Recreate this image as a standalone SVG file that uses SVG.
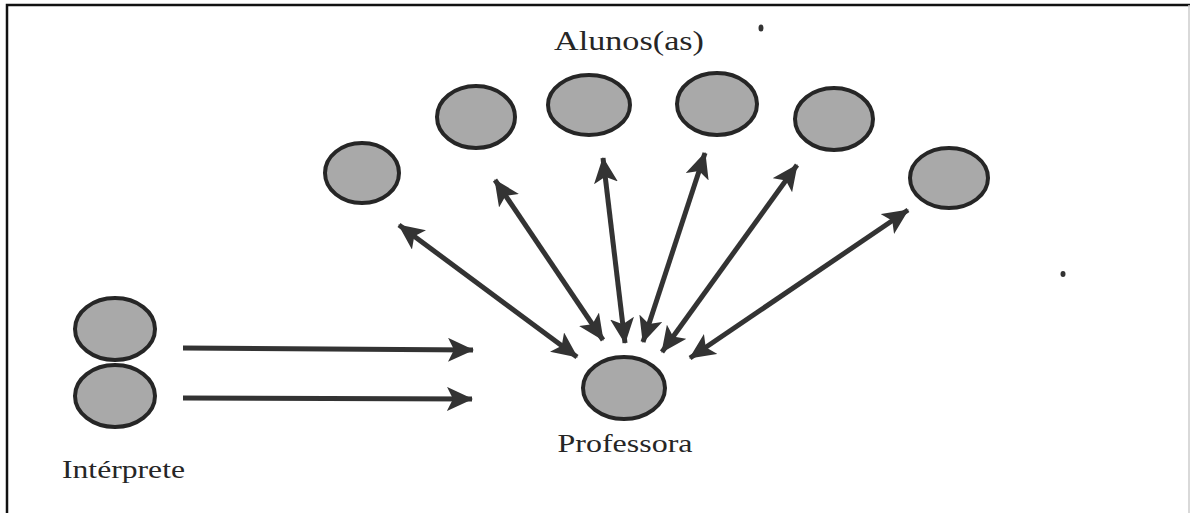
<svg xmlns="http://www.w3.org/2000/svg" width="1190" height="513" viewBox="0 0 1190 513">
<defs>
<marker id="ah" markerUnits="userSpaceOnUse" markerWidth="26" markerHeight="24" viewBox="0 0 26 24" refX="25" refY="12" orient="auto-start-reverse">
<path d="M0,0 L26,12 L0,24 L6,12 Z" fill="#333"/>
</marker>
</defs>
<style>
.node{fill:#a9a9a9;stroke:#262626;stroke-width:4}
.lbl{font-family:"Liberation Serif","Times New Roman",serif;fill:#262626}
.c{stroke:#333;stroke-width:5;fill:none;marker-end:url(#ah)}
.b{marker-start:url(#ah)}
</style>
<rect width="1190" height="513" fill="#ffffff"/>
<path d="M7,513 V5 H1190" fill="none" stroke="#111" stroke-width="2.5"/>
<line x1="1189" y1="5" x2="1189" y2="513" stroke="#cccccc" stroke-width="1.5"/>
<ellipse cx="761" cy="28" rx="2.5" ry="3.5" fill="#333"/>
<ellipse cx="1063" cy="274" rx="2.5" ry="3" fill="#333"/>
<text class="lbl" x="629" y="50" font-size="28" text-anchor="middle" textLength="150" lengthAdjust="spacingAndGlyphs">Alunos(as)</text>
<g id="aluno1"><ellipse class="node" cx="362" cy="173" rx="37" ry="30"/></g>
<g id="aluno2"><ellipse class="node" cx="476" cy="117" rx="39" ry="31"/></g>
<g id="aluno3"><ellipse class="node" cx="589" cy="105" rx="41" ry="30"/></g>
<g id="aluno4"><ellipse class="node" cx="717" cy="104" rx="40" ry="31"/></g>
<g id="aluno5"><ellipse class="node" cx="834" cy="119" rx="39" ry="31"/></g>
<g id="aluno6"><ellipse class="node" cx="949" cy="178" rx="39" ry="30"/></g>
<g id="interprete1"><ellipse class="node" cx="115" cy="329" rx="40" ry="31"/></g>
<g id="interprete2"><ellipse class="node" cx="115" cy="396" rx="40" ry="31"/></g>
<g id="professora"><ellipse class="node" cx="624" cy="388" rx="41" ry="31"/>
<text class="lbl" x="625" y="452" font-size="26" text-anchor="middle" textLength="135" lengthAdjust="spacingAndGlyphs">Professora</text></g>
<text class="lbl" x="62" y="478" font-size="26" textLength="123" lengthAdjust="spacingAndGlyphs">Intérprete</text>
<g id="connectors">
<line class="c" x1="183" y1="348" x2="473" y2="350"/>
<line class="c" x1="183" y1="398" x2="472" y2="399"/>
<line class="c b" x1="399" y1="225" x2="577" y2="357"/>
<line class="c b" x1="495" y1="180" x2="603" y2="340"/>
<line class="c b" x1="603" y1="158" x2="625" y2="343"/>
<line class="c b" x1="705" y1="153" x2="643" y2="342"/>
<line class="c b" x1="797" y1="165" x2="662" y2="352"/>
<line class="c b" x1="908" y1="210" x2="690" y2="358"/>
</g>
</svg>
